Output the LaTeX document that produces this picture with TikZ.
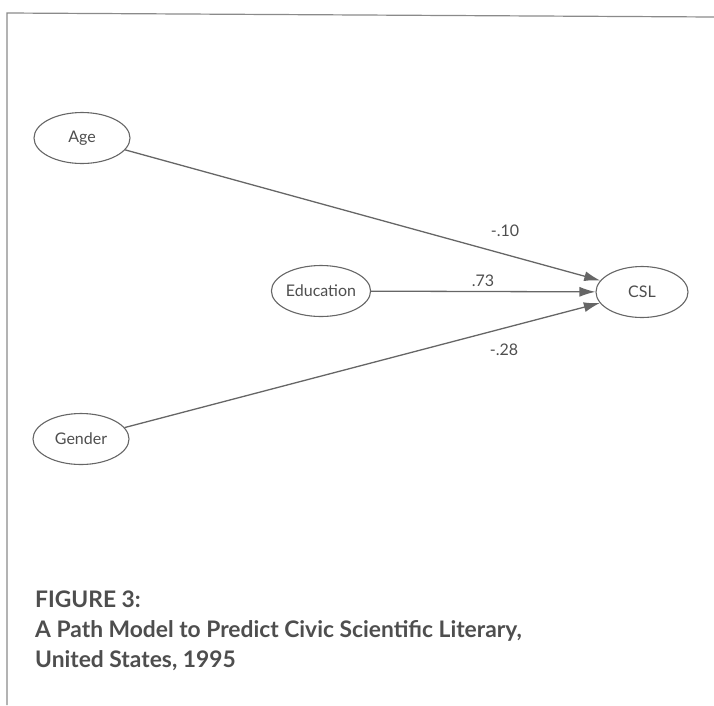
\documentclass[tikz,border=0pt]{standalone}
\usepackage{fontspec}
\setmainfont{Lato}
\usetikzlibrary{arrows.meta,shapes.geometric}
\definecolor{ink}{HTML}{4E4E4E}
\definecolor{linegray}{HTML}{666666}
\definecolor{framegray}{HTML}{8A8A8A}
\tikzset{
  var/.style={ellipse, draw=linegray, line width=1.1pt, inner sep=0pt,
    minimum height=51pt, text=ink, font=\fontsize{16}{19}\selectfont},
  path/.style={draw=linegray, line width=1.3pt, -{Latex[length=16pt,width=10pt]}},
  coef/.style={text=ink, font=\fontsize{16}{19}\selectfont, inner sep=0pt},
  caption/.style={anchor=base west, inner sep=0pt, text=ink,
    font=\fontsize{22.8}{30}\selectfont\bfseries}
}
\begin{document}
\begin{tikzpicture}[x=1pt,y=-1pt]
\useasboundingbox (0,0) rectangle (714,705);
% frame
\draw[framegray, line width=1.2pt] (7,705) -- (7,13) -- (714,17);
% variables
\node[var, minimum width=96pt] (age) at (82,138) {Age};
\node[var, minimum width=90pt] (edu) at (321,291) {Education};
\node[var, minimum width=92pt] (csl) at (642,292) {CSL};
\node[var, minimum width=96pt] (gen) at (81,439) {Gender};
% paths
\draw[path] (age) -- (csl);
\draw[path] (edu) -- (csl);
\draw[path] (gen) -- (csl);
% coefficients
\node[coef] (c1) at (505,231) {-.10};
\node[coef] (c2) at (483,281) {.73};
\node[coef] (c3) at (504,350) {-.28};
% caption
\node[caption] (cap1) at (35,607) {FIGURE 3:};
\node[caption] (cap2) at (35,637) {A Path Model to Predict Civic Scientific Literary,};
\node[caption] (cap3) at (35,667) {United States, 1995};
\end{tikzpicture}
\end{document}
